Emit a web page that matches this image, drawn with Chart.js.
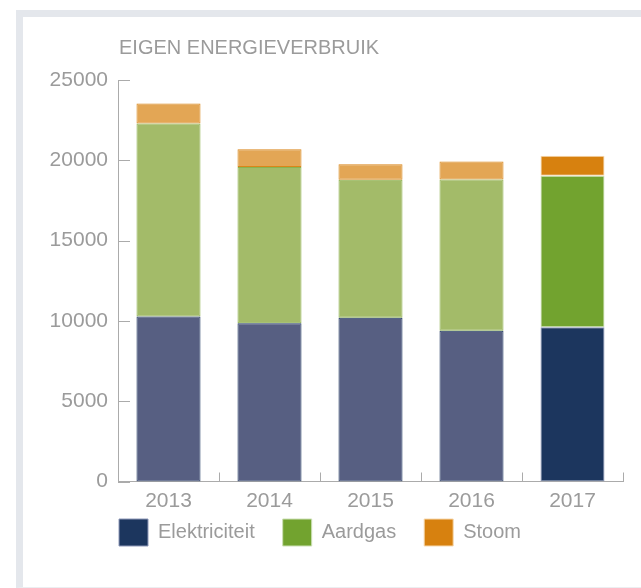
<!DOCTYPE html>
<html><head><meta charset="utf-8">
<script src="https://cdn.jsdelivr.net/npm/chart.js@4"></script>
<style>
html,body{margin:0;padding:0;background:#fff;width:641px;height:588px;overflow:hidden;}
#frame{position:absolute;left:16px;top:10px;width:618px;height:570px;border-left:7px solid #e4e7ec;border-top:7px solid #e4e7ec;border-bottom:1px solid #eceef1;background:#fff;}
#wrap{position:absolute;left:0;top:0;width:641px;height:588px;}
</style></head>
<body>
<div id="frame"></div>
<div id="wrap"><canvas id="c" width="641" height="588"></canvas></div>
<script>
const chartTitle = "EIGEN ENERGIEVERBRUIK";
const years = ["2013", "2014", "2015", "2016", "2017"];
const elektriciteit = [10270, 9850, 10200, 9380, 9600];
const aardgas = [12020, 9730, 8590, 9430, 9440];
const stoom = [1250, 1110, 960, 1110, 1250];
const yTicks = [0, 5000, 10000, 15000, 20000, 25000];

const fontFam = "'Liberation Sans', Arial, sans-serif";
const textCol = "#9b9b9b";
const axisCol = "#ababab";

const oldCol = {
  e: {fill: "#575f82", border: "#1e3660"},
  g: {fill: "#a3bb69", border: "#8db24f"},
  s: {fill: "#e3a655", border: "#da8619"}
};
const newCol = {
  e: {fill: "#1c365e", border: "#8e98b8"},
  g: {fill: "#72a32f", border: "#cde0b6"},
  s: {fill: "#d7810f", border: "#f7d9b0"}
};
function fills(k){ return years.map((y,i)=> i===years.length-1 ? newCol[k].fill : oldCol[k].fill); }
function borders(k){ return years.map((y,i)=> i===years.length-1 ? newCol[k].border : oldCol[k].border); }

const ds = (label, data, k) => ({
  label, data, backgroundColor: fills(k), borderColor: borders(k),
  borderWidth: 1, borderSkipped: false, barPercentage: 0.634, categoryPercentage: 1
});

const decor = {
  id: 'decor',
  beforeDraw(chart){
    // nudge the library legend so its first box lines up with the y axis, just under the year labels
    const lg = chart.legend, ca = chart.chartArea;
    if (lg) {
      const w = lg.right - lg.left, h = lg.bottom - lg.top;
      lg.left = ca.left - 27; lg.right = lg.left + w;
      lg.top = ca.bottom + 9.5; lg.bottom = lg.top + h;
    }
  },
  afterDraw(chart){
    const ctx = chart.ctx, ca = chart.chartArea;
    const x = chart.scales.x, y = chart.scales.y;
    ctx.save();
    ctx.fillStyle = textCol;
    ctx.font = "20px " + fontFam;
    ctx.textBaseline = "alphabetic";
    ctx.textAlign = "left";
    ctx.fillText(chartTitle, ca.left + 1, 54);
    ctx.strokeStyle = axisCol;
    ctx.lineWidth = 1;
    ctx.beginPath();
    yTicks.forEach(v => {
      const py = Math.round(y.getPixelForValue(v)) + 0.5;
      ctx.moveTo(ca.left, py); ctx.lineTo(ca.left + 12, py);
    });
    const half = (x.getPixelForTick(1) - x.getPixelForTick(0)) / 2;
    years.forEach((c, i) => {
      const px = Math.round(x.getPixelForTick(i) + half) + 0.5;
      ctx.moveTo(px, ca.bottom); ctx.lineTo(px, ca.bottom - 9);
    });
    ctx.stroke();
    ctx.restore();
  }
};

new Chart(document.getElementById('c'), {
  type: 'bar',
  data: {
    labels: years,
    datasets: [
      ds("Elektriciteit", elektriciteit, 'e'),
      ds("Aardgas", aardgas, 'g'),
      ds("Stoom", stoom, 's')
    ]
  },
  plugins: [decor],
  options: {
    responsive: false,
    animation: false,
    layout: {padding: {top: 80, left: 0, right: 18, bottom: 11.5}},
    plugins: {
      tooltip: {enabled: false},
      title: {display: false},
      legend: {
        position: 'bottom', align: 'start', fullSize: false,
        labels: {
          boxWidth: 29, boxHeight: 27, padding: 28, color: textCol,
          font: {family: fontFam, size: 20},
          generateLabels: (chart) => chart.data.datasets.map((d, i) => {
            const k = ['e','g','s'][i];
            return {text: d.label, fillStyle: newCol[k].fill, strokeStyle: newCol[k].border,
                    lineWidth: 1, hidden: false, datasetIndex: i, fontColor: textCol};
          })
        }
      }
    },
    scales: {
      x: {
        stacked: true,
        grid: {display: false},
        border: {display: true, color: axisCol, width: 1},
        ticks: {color: textCol, font: {family: fontFam, size: 21}, padding: -1},
        afterFit: s => { s.height = 30; }
      },
      y: {
        stacked: true, min: 0, max: 25000,
        grid: {display: false},
        border: {display: true, color: axisCol, width: 1},
        ticks: {stepSize: 5000, color: textCol, font: {family: fontFam, size: 21}, padding: 2,
                callback: v => String(v)},
        afterFit: s => { s.width = 118; }
      }
    }
  }
});
</script>
</body></html>
